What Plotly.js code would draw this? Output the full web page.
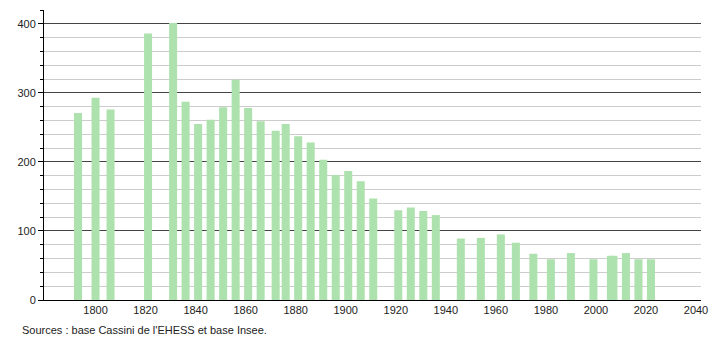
<!DOCTYPE html>
<html><head><meta charset="utf-8">
<script src="https://cdn.plot.ly/plotly-3.0.1.min.js"></script>
<style>html,body{margin:0;padding:0;background:#fff;}#chart{width:710px;height:340px;}</style>
</head><body><div id="chart"></div>
<script>
const years = [1793,1800,1806,1821,1831,1836,1841,1846,1851,1856,1861,1866,1872,1876,1881,1886,1891,1896,1901,1906,1911,1921,1926,1931,1936,1946,1954,1962,1968,1975,1982,1990,1999,2006,2007,2012,2017,2022];
const population = [271,293,276,386,401,287,255,261,279,319,278,259,245,255,237,228,203,181,187,172,147,130,134,129,123,89,90,95,83,67,59,68,59,64,64,68,59,59];
const xTickVals = [1800,1820,1840,1860,1880,1900,1920,1940,1960,1980,2000,2020,2040];
const yTickVals = [0,100,200,300,400];
const sourceText = "Sources : base Cassini de l'EHESS et base Insee.";

const font = {family: 'Liberation Sans, Arial, sans-serif', size: 11, color: '#222'};
Plotly.newPlot('chart', [{
  type: 'bar', x: years, y: population, width: 3.2,
  marker: {color: 'rgb(173,225,173)', line: {width: 0}},
  hoverinfo: 'x+y'
}], {
  width: 710, height: 340,
  margin: {l: 44, r: 9, t: 10, b: 40},
  paper_bgcolor: '#fff', plot_bgcolor: '#fff',
  showlegend: false, font: font,
  xaxis: {range: [1779.4, 2042], tickvals: xTickVals, showgrid: false, zeroline: false,
    showline: true, linecolor: '#000', linewidth: 1, ticks: '', tickfont: font},
  yaxis: {range: [0, 420], tickvals: yTickVals, showgrid: true, gridcolor: '#444', gridwidth: 1,
    zeroline: false, showline: true, linecolor: '#000', linewidth: 1,
    ticks: 'outside', ticklen: 5, tickcolor: '#000', tickfont: font,
    minor: {dtick: 20, tick0: 0, ticks: 'outside', ticklen: 3, tickcolor: '#000', showgrid: true, gridcolor: '#ccc', gridwidth: 1}},
  annotations: [{text: sourceText, xref: 'paper', yref: 'paper', x: -0.036, y: -0.076,
    xanchor: 'left', yanchor: 'top', showarrow: false, font: font}]
}, {staticPlot: true});
</script></body></html>
